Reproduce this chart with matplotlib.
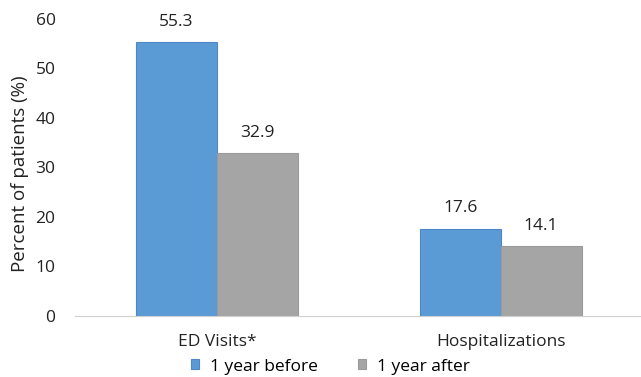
import numpy as np
import matplotlib.pyplot as plt

plt.rcParams['font.family'] = ['Open Sans', 'DejaVu Sans']

categories = ["ED Visits*", "Hospitalizations"]
before = [55.3, 17.6]
after = [32.9, 14.1]
series_names = ["1 year before", "1 year after"]

blue = "#5B9BD5"
gray = "#A5A5A5"

fig = plt.figure(figsize=(6.41, 3.77), dpi=100)
ax = fig.add_axes([0.117, 0.162, 0.881, 0.788])

x = np.arange(len(categories))
w = 0.285
b1 = ax.bar(x - w / 2, before, w, color=blue, edgecolor="#4F86C6", linewidth=0.8, label=series_names[0])
b2 = ax.bar(x + w / 2, after, w, color=gray, edgecolor="#9A9A9A", linewidth=0.8, label=series_names[1])

for bars in (b1, b2):
    for rect in bars:
        h = rect.get_height()
        ax.annotate(f"{h:.1f}", (rect.get_x() + rect.get_width() / 2, h),
                    xytext=(0, 9), textcoords="offset points",
                    ha="center", va="bottom", fontsize=12.5, color="#222222")

ax.set_xlim(-0.5, 1.49)
ax.set_ylim(0, 60)
ax.set_yticks(range(0, 61, 10))
ax.set_xticks(x)
ax.set_xticklabels(categories)
ax.tick_params(axis="both", length=0, labelsize=12.5, colors="#222222")
ax.tick_params(axis="y", pad=14)
ax.tick_params(axis="x", pad=13)
for side in ("left", "right", "top"):
    ax.spines[side].set_visible(False)
ax.spines["bottom"].set_color("#D0D0D0")
ax.set_ylabel("Percent of patients (%)", fontsize=13.5, color="#222222")
ax.yaxis.set_label_coords(-0.082, 0.48)

fig.legend(loc="lower center", bbox_to_anchor=(0.515, -0.035), ncol=2, frameon=False,
           fontsize=12.5, handlelength=0.5, handleheight=0.5, columnspacing=2.3,
           handletextpad=0.6)

fig.savefig("out.png", dpi=100)
